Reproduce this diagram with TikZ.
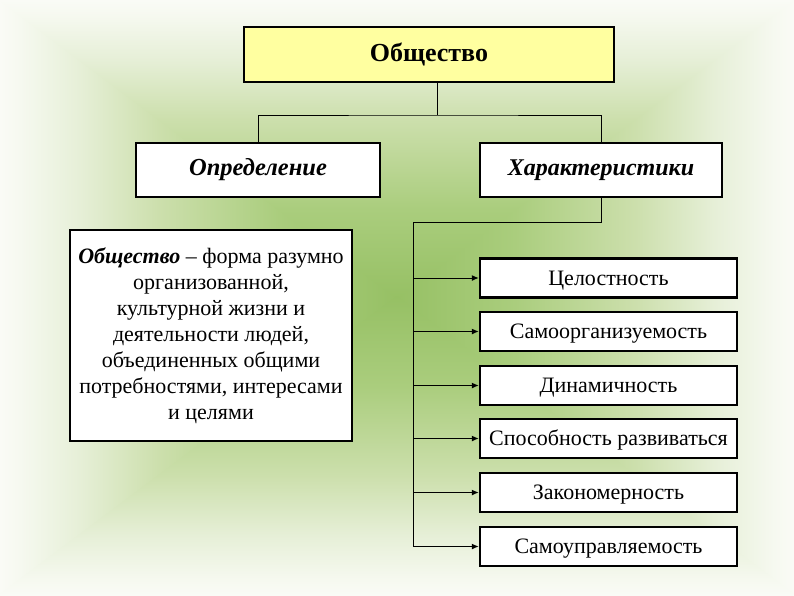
\documentclass[tikz,border=0pt]{standalone}
\usepackage{fontspec}
\setmainfont{Liberation Serif}
\usetikzlibrary{arrows.meta,calc}
\definecolor{cA}{RGB}{250,251,246}
\definecolor{cB}{RGB}{246,249,240}
\definecolor{cC}{RGB}{230,239,215}
\definecolor{cD}{RGB}{204,223,172}
\definecolor{cE}{RGB}{170,205,125}
\definecolor{cF}{RGB}{150,192,100}
\definecolor{topyellow}{RGB}{255,255,160}
% base radial underlay (fills any seams)
\pgfdeclareradialshading{bgbase}{\pgfpoint{0bp}{0bp}}{color(0bp)=(cF); color(6bp)=(cF); color(15bp)=(cD); color(25bp)=(cA); color(50bp)=(cA)}
% edge at high end (top / right)
\pgfdeclareverticalshading{fadetop}{100bp}{color(0bp)=(cF); color(25bp)=(cF); color(40bp)=(cE); color(55bp)=(cD); color(65bp)=(cC); color(72.5bp)=(cB); color(75bp)=(cA); color(100bp)=(cA)}
\pgfdeclarehorizontalshading{faderight}{100bp}{color(0bp)=(cF); color(25bp)=(cF); color(40bp)=(cE); color(55bp)=(cD); color(65bp)=(cC); color(72.5bp)=(cB); color(75bp)=(cA); color(100bp)=(cA)}
% edge at low end (bottom / left)
\pgfdeclareverticalshading{fadebottom}{100bp}{color(0bp)=(cA); color(25bp)=(cA); color(27.5bp)=(cB); color(35bp)=(cC); color(45bp)=(cD); color(60bp)=(cE); color(75bp)=(cF); color(100bp)=(cF)}
\pgfdeclarehorizontalshading{fadeleft}{100bp}{color(0bp)=(cA); color(25bp)=(cA); color(27.5bp)=(cB); color(35bp)=(cC); color(45bp)=(cD); color(60bp)=(cE); color(75bp)=(cF); color(100bp)=(cF)}
\tikzset{
  box/.style={draw=black, line width=2.5pt, fill=white, inner sep=2pt, align=center},
  conn/.style={draw=black, line width=1pt},
  arr/.style={conn, -{Latex[length=7pt,width=6pt]}},
  item/.style={box, minimum width=257pt, minimum height=39pt, text height=18pt, text depth=4pt, font=\fontsize{22}{26}\selectfont}
}
\begin{document}
\begin{tikzpicture}[x=1pt,y=-1pt]
\useasboundingbox (0,0) rectangle (794,595);
\shade[shading=bgbase] (0,0) rectangle (794,595);
\shade[shading=fadeleft] (0,-1) -- (398.5,297.5) -- (0,596) -- cycle;
\shade[shading=faderight] (794,-1) -- (395.5,297.5) -- (794,596) -- cycle;
\shade[shading=fadetop] (-1,0) -- (795,0) -- (397,299) -- cycle;
\shade[shading=fadebottom] (-1,595) -- (795,595) -- (397,296) -- cycle;

\node[box, fill=topyellow, minimum width=370pt, minimum height=55pt, font=\fontsize{26}{30}\selectfont\bfseries] (top) at (429,54.5) {Общество};
\node[box, minimum width=244pt, minimum height=54pt, font=\fontsize{24.5}{28}\selectfont\bfseries\itshape] (def) at (258,170) {Определение};
\node[box, minimum width=242pt, minimum height=54pt, font=\fontsize{24}{28}\selectfont\bfseries\itshape] (char) at (601,170) {Характеристики};

\node[box, minimum width=282pt, minimum height=211pt, font=\fontsize{22}{26}\selectfont] (txt) at (211,335.5)
  {\textbf{\textit{Общество}} – форма разумно\\ организованной,\\ культурной жизни и\\ деятельности людей,\\ объединенных общими\\ потребностями, интересами\\ и целями};

\node[item] (r1) at (608.5,278) {Целостность};
\node[item] (r2) at (608.5,331.5) {Самоорганизуемость};
\node[item] (r3) at (608.5,385.5) {Динамичность};
\node[item] (r4) at (608.5,438.5) {Способность развиваться};
\node[item] (r5) at (608.5,492.5) {Закономерность};
\node[item] (r6) at (608.5,546.5) {Самоуправляемость};

\coordinate (j1) at (437,115);
\coordinate (b1) at (601,222);
\coordinate (b2) at (413,222);

\draw[conn] (j1 |- top.south) -- (j1);
\draw[conn] (def.north) |- (j1) -| (char.north);
\draw[conn] (char.south) -- (b1) -- (b2) -- (b2 |- r6.west);
\foreach \i in {1,...,6} {
  \draw[arr] (b2 |- r\i.west) -- (r\i.west);
}
\end{tikzpicture}
\end{document}
